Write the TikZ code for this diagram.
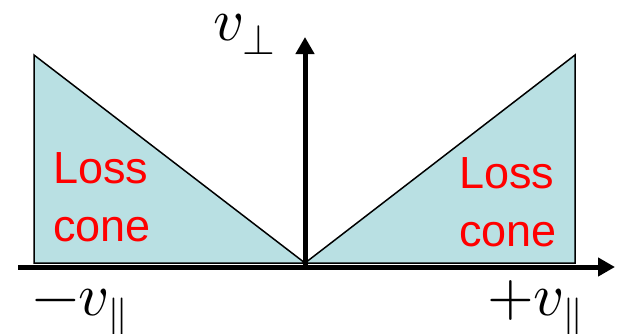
\documentclass[tikz,border=0pt]{standalone}
\usepackage{fontspec}
\usepackage{unicode-math}
\setmainfont{Liberation Sans}
\setmathfont{Latin Modern Math}
\usetikzlibrary{arrows.meta}
\definecolor{ConeFill}{HTML}{B9E0E3}
\definecolor{ConeRed}{HTML}{FF0000}

\begin{document}
\begin{tikzpicture}[
        x=1pt, y=-1pt,
        cone/.style={draw=black, fill=ConeFill, line width=1.5pt, line join=miter},
        axis/.style={-{Triangle[length=17pt,width=18pt]}, line width=5pt},
        losslbl/.style={text=ConeRed, align=left, inner sep=0pt, font=\fontsize{45}{58}\selectfont},
        sym/.style={inner sep=0pt, anchor=base west, font=\fontsize{60}{60}\selectfont}
    ]
        \useasboundingbox (0,0) rectangle (621,333);
        \coordinate (O) at (305,267);
        \coordinate (xmin) at (18,267);
        \coordinate (xmax) at (615,267);
        \coordinate (ybot) at (305,269.5);
        \coordinate (ymax) at (305,37);
        \draw[cone] (34,55) -- (34,263) -- (305,263) -- cycle;
        \draw[cone] (575,55) -- (575,263) -- (305,263) -- cycle;
        \node[losslbl, anchor=north west] (lossL) at (53,152) {Loss\\cone};
        \node[losslbl, anchor=north west] (lossR) at (459,157) {Loss\\cone};
        \draw[axis] (xmin) -- (xmax);
        \draw[axis] (ybot) -- (ymax);
        \node[sym] (vperp) at (213,40) {$v_{\perp}$};
        \node[sym] (vneg) at (32,315) {$-v_{\parallel}$};
        \node[sym] (vpos) at (487,315) {$+v_{\parallel}$};
    \end{tikzpicture}
\end{document}
